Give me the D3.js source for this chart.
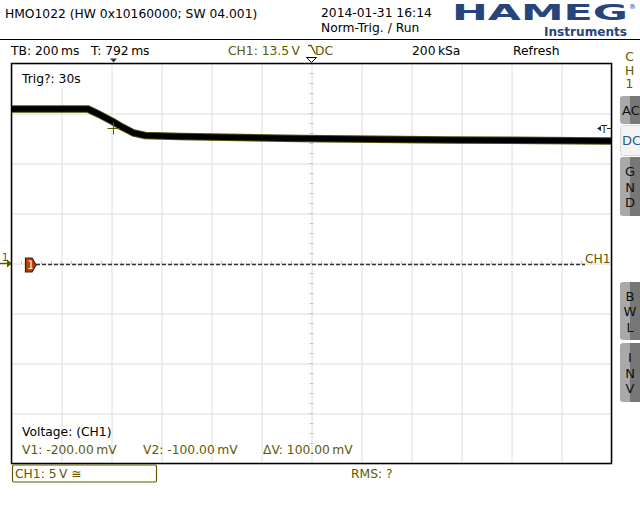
<!DOCTYPE html>
<html><head><meta charset="utf-8">
<script src="https://cdn.jsdelivr.net/npm/d3@7"></script>
<style>body{margin:0;background:#fff}svg{display:block}text{font-family:"DejaVu Sans",sans-serif}</style>
</head><body><svg id="c" width="640" height="520"></svg>
<script>
// ---- data ----
const traceTime = [-408, -102, -90, -60, -30, 0, 30, 50, 80, 126, 266, 746, 1346, 1992]; // ms
const traceVolt = [15.45, 15.45, 15.3, 14.95, 14.55, 14.15, 13.7, 13.45, 13.05, 12.8, 12.7, 12.5, 12.35, 12.25]; // V
const timeGrid = [-408, -208, -8, 192, 392, 592, 792, 992, 1192, 1392, 1592, 1792, 1992];
const voltGrid = [-20, -15, -10, -5, 0, 5, 10, 15, 20];
const triggerTime = 0, triggerLevel = 13.5, centerTime = 792;
const headerLines = ["HMO1022 (HW 0x10160000; SW 04.001)", "2014-01-31 16:14", "Norm-Trig. / Run"];
const cursorLabels = ["V1: -200.00\u2009mV", "V2: -100.00\u2009mV", "\u0394V: 100.00\u2009mV"];

// ---- drawing ----
const svg = d3.select("#c");
const L = 11.5, R = 611.5, T = 63.5, B = 463.5;
const x = d3.scaleLinear().domain([-408, 1992]).range([L, R]);
const y = d3.scaleLinear().domain([-20, 20]).range([B, T]);
const OL = "#5e5900";
const GRID = "#dcdcdc";
const FS = 12.3;

// header
svg.append("text").attr("x", 5).attr("y", 18).attr("font-size", FS).text(headerLines[0]);
svg.append("text").attr("x", 321).attr("y", 17).attr("font-size", FS).text(headerLines[1]);
svg.append("text").attr("x", 321).attr("y", 31.5).attr("font-size", FS).text(headerLines[2]);
// HAMEG logo
svg.append("text").attr("x", 452).attr("y", 19.5).attr("font-size", 21).attr("font-weight", "bold")
  .attr("fill", "#27457c").attr("textLength", 176).attr("lengthAdjust", "spacingAndGlyphs").text("HAMEG");
svg.append("text").attr("x", 629).attr("y", 9).attr("font-size", 7).attr("fill", "#27457c").text("\u00AE");
svg.append("text").attr("x", 544).attr("y", 35.5).attr("font-size", 12).attr("font-weight", "bold")
  .attr("fill", "#27457c").attr("textLength", 83).attr("lengthAdjust", "spacingAndGlyphs").text("Instruments");
svg.append("line").attr("x1", 0).attr("x2", 640).attr("y1", 39.5).attr("y2", 39.5).attr("stroke", "#000");

// status row
svg.append("text").attr("x", 11).attr("y", 55).attr("font-size", FS).text("TB: 200\u2009ms");
svg.append("text").attr("x", 91).attr("y", 55).attr("font-size", FS).text("T: 792\u2009ms");
svg.append("text").attr("x", 228).attr("y", 55).attr("font-size", FS).attr("fill", OL).text("CH1: 13.5\u2009V");
svg.append("path").attr("d", "M308,45.5H311L315.5,54").attr("fill", "none").attr("stroke", OL).attr("stroke-width", 1.3);
svg.append("text").attr("x", 315).attr("y", 55).attr("font-size", FS).attr("fill", OL).text("DC");
svg.append("text").attr("x", 412).attr("y", 55).attr("font-size", FS).text("200\u2009kSa");
svg.append("text").attr("x", 513).attr("y", 55).attr("font-size", FS).text("Refresh");
["C", "H", "1"].forEach((c, i) => svg.append("text").attr("x", 629.5).attr("y", 61 + i * 13.5)
  .attr("font-size", FS).attr("fill", OL).attr("text-anchor", "middle").text(c));

// grid
svg.append("g").attr("transform", `translate(0,${B})`)
  .call(d3.axisBottom(x).tickValues(timeGrid).tickSize(-(B - T)).tickFormat(""))
  .call(g => { g.select(".domain").remove(); g.selectAll("line").attr("stroke", GRID); });
svg.append("g").attr("transform", `translate(${L},0)`)
  .call(d3.axisLeft(y).tickValues(voltGrid).tickSize(-(R - L)).tickFormat(""))
  .call(g => { g.select(".domain").remove(); g.selectAll("line").attr("stroke", GRID); });
// minor ticks on centre lines
const minorT = d3.range(-408, 1992.1, 40), minorV = d3.range(-20, 20.1, 1);
svg.append("g").selectAll("line").data(minorT).join("line")
  .attr("x1", d => x(d)).attr("x2", d => x(d)).attr("y1", y(0) - 2.5).attr("y2", y(0) + 0.5).attr("stroke", "#c4c4c4");
svg.append("g").selectAll("line").data(minorV).join("line")
  .attr("y1", d => y(d)).attr("y2", d => y(d)).attr("x1", x(centerTime) - 2).attr("x2", x(centerTime) + 2).attr("stroke", "#c4c4c4");

// Trig? box
svg.append("rect").attr("x", 20).attr("y", 65).attr("width", 45).attr("height", 23).attr("fill", "#fff");
svg.append("text").attr("x", 22).attr("y", 83).attr("font-size", FS).text("Trig?: 30s");

// ground reference line
svg.append("line").attr("x1", 36).attr("x2", 585).attr("y1", y(0) + 1).attr("y2", y(0) + 1)
  .attr("stroke", "#333").attr("stroke-width", 1.3).attr("stroke-dasharray", "4,2");
svg.append("text").attr("x", 585).attr("y", 263).attr("font-size", FS).attr("fill", OL).text("CH1");
// ch1 marker at left
svg.append("text").attr("x", 2).attr("y", 261).attr("font-size", 10).attr("fill", OL).text("1");
svg.append("line").attr("x1", 0).attr("x2", 8).attr("y1", y(0)).attr("y2", y(0)).attr("stroke", OL).attr("stroke-width", 1.5);
svg.append("path").attr("d", `M7,${y(0) - 4}L12,${y(0)}L7,${y(0) + 4}Z`).attr("fill", OL);
svg.append("path").attr("d", `M25.5,${y(0) - 5.5}H32L36,${y(0) + 1.5}L32,${y(0) + 8.5}H25.5Z`)
  .attr("fill", "#c83c00").attr("stroke", "#222").attr("stroke-width", 1.2);
svg.append("path").attr("d", `M28.5,${y(0) - 2.5}H31V${y(0) + 5}M28.5,${y(0) + 5}H32.5`).attr("fill", "none").attr("stroke", "#fff").attr("stroke-width", 1.2);

// trace
const pts = traceTime.map((t, i) => [t, traceVolt[i]]);
const line = d3.line().x(d => x(d[0])).y(d => y(d[1]));
svg.append("path").attr("d", line(pts)).attr("fill", "none").attr("stroke", "#4f4e08").attr("stroke-width", 7.5);
svg.append("path").attr("d", line(pts)).attr("fill", "none").attr("stroke", "#000").attr("stroke-width", 5.5);

// trigger crosshair
const tx = x(triggerTime), ty = y(triggerLevel);
svg.append("path").attr("d", `M${tx - 6},${ty}H${tx + 6}M${tx},${ty - 6}V${ty + 6}`).attr("stroke", OL).attr("stroke-width", 1);
// trigger level marker right
svg.append("text").attr("x", 601).attr("y", ty + 4).attr("font-size", 10).attr("fill", "#222").text("T");
svg.append("path").attr("d", `M597,${ty}L601,${ty - 2.5}V${ty + 2.5}Z`).attr("fill", "#222");
svg.append("line").attr("x1", 607).attr("x2", 611).attr("y1", ty).attr("y2", ty).attr("stroke", "#222");

// frame
svg.append("rect").attr("x", L).attr("y", T).attr("width", R - L).attr("height", B - T)
  .attr("fill", "none").attr("stroke", "#000").attr("stroke-width", 1.5);
// top markers
svg.append("path").attr("d", `M${tx - 3.5},58.5H${tx + 3.5}L${tx},62.5Z`).attr("fill", "#333");
svg.append("path").attr("d", `M${x(centerTime) - 5},57.5H${x(centerTime) + 5}L${x(centerTime)},62.5Z`)
  .attr("fill", "#fff").attr("stroke", "#000").attr("stroke-width", 1);

// cursor measurement texts
svg.append("text").attr("x", 22).attr("y", 436).attr("font-size", FS).text("Voltage: (CH1)");
[22, 143, 263].forEach((px, i) => svg.append("text").attr("x", px).attr("y", 454)
  .attr("font-size", FS).attr("fill", OL).text(cursorLabels[i]));

// bottom row
svg.append("rect").attr("x", 12.5).attr("y", 465).attr("width", 144).attr("height", 17).attr("rx", 1.5)
  .attr("fill", "none").attr("stroke", OL).attr("stroke-width", 1.2);
svg.append("text").attr("x", 15).attr("y", 478).attr("font-size", FS).attr("fill", OL).text("CH1: 5\u2009V \u2245");
svg.append("text").attr("x", 351).attr("y", 478).attr("font-size", FS).attr("fill", OL).text("RMS: ?");

// side buttons
function button(y0, y1, letters, active, vertical) {
  const g = svg.append("g");
  if (active) {
    g.append("rect").attr("x", 620.5).attr("y", y0 + 0.5).attr("width", 25).attr("height", y1 - y0).attr("rx", 3)
      .attr("fill", "#f3f3f3").attr("stroke", "#d8d8d8");
  } else {
    g.append("rect").attr("x", 620).attr("y", y0).attr("width", 25).attr("height", y1 - y0).attr("rx", 3).attr("fill", "#a9a9a9");
    g.append("rect").attr("x", 630).attr("y", y0).attr("width", 10).attr("height", y1 - y0).attr("fill", "#777");
  }
  const col = active ? "#2a5a86" : "#111";
  if (!vertical) {
    g.append("text").attr("x", 622).attr("y", (y0 + y1) / 2 + 5).attr("font-size", 13).attr("fill", col).text(letters);
  } else {
    const n = letters.length, step = 15.5, mid = (y0 + y1) / 2;
    letters.split("").forEach((c, i) => g.append("text").attr("x", 630).attr("y", mid + (i - (n - 1) / 2) * step + 5)
      .attr("font-size", 13).attr("text-anchor", "middle").attr("fill", col).text(c));
  }
}
button(96, 124, "AC", false, false);
button(125, 155, "DC", true, false);
button(157, 216, "GND", false, true);
button(282, 340, "BWL", false, true);
button(343, 402, "INV", false, true);
</script></body></html>
